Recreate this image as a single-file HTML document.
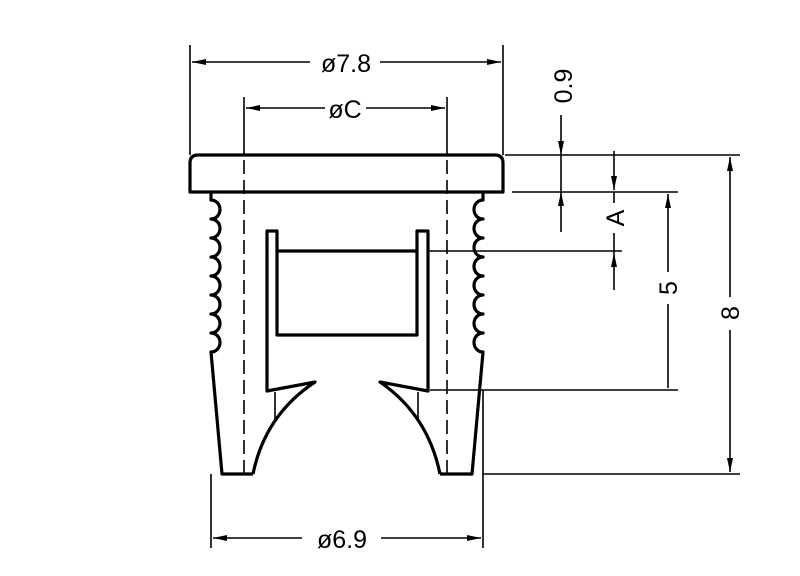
<!DOCTYPE html>
<html><head><meta charset="utf-8"><style>
html,body{margin:0;padding:0;background:#fff;}
svg{display:block}
text{font-family:"Liberation Sans",sans-serif;font-size:25px;fill:#000}
</style></head><body>
<svg width="800" height="576" viewBox="0 0 800 576" xmlns="http://www.w3.org/2000/svg">
<defs>
<marker id="a" markerWidth="14" markerHeight="6" refX="14" refY="3" orient="auto" markerUnits="userSpaceOnUse"><path d="M0,0 L14,3 L0,6z" fill="#000"/></marker>
</defs>
<g fill="none" stroke="#000" stroke-width="1.6">
<line x1="190" y1="45" x2="190" y2="155"/>
<line x1="503" y1="45" x2="503" y2="155"/>
<line x1="244" y1="97" x2="244" y2="140"/>
<line x1="447" y1="97" x2="447" y2="140"/>
<line x1="211" y1="474" x2="211" y2="548"/>
<line x1="483" y1="390" x2="483" y2="548"/>
<line x1="505" y1="155" x2="740" y2="155"/>
<line x1="512" y1="192" x2="678" y2="192"/>
<line x1="428" y1="251" x2="622" y2="251"/>
<line x1="430" y1="390" x2="678" y2="390"/>
<line x1="483" y1="474" x2="740" y2="474"/>
<line x1="310" y1="62" x2="192" y2="62" marker-end="url(#a)"/>
<line x1="380" y1="62" x2="501" y2="62" marker-end="url(#a)"/>
<line x1="325" y1="108" x2="246" y2="108" marker-end="url(#a)"/>
<line x1="366" y1="108" x2="445" y2="108" marker-end="url(#a)"/>
<line x1="302" y1="538" x2="213" y2="538" marker-end="url(#a)"/>
<line x1="381" y1="538" x2="481" y2="538" marker-end="url(#a)"/>
<line x1="561" y1="115" x2="561" y2="155" marker-end="url(#a)"/>
<line x1="561" y1="232" x2="561" y2="192" marker-end="url(#a)"/>
<line x1="561" y1="155" x2="561" y2="192"/>
<line x1="614" y1="151" x2="614" y2="190" marker-end="url(#a)"/>
<line x1="614" y1="192" x2="614" y2="203"/>
<line x1="614" y1="233" x2="614" y2="253"/>
<line x1="614" y1="290" x2="614" y2="253" marker-end="url(#a)"/>
<line x1="668" y1="272" x2="668" y2="194" marker-end="url(#a)"/>
<line x1="668" y1="304" x2="668" y2="388"/>
<line x1="730" y1="297" x2="730" y2="157" marker-end="url(#a)"/>
<line x1="730" y1="330" x2="730" y2="472" marker-end="url(#a)"/>
<g stroke-dasharray="14,6">
<line x1="244" y1="140" x2="244" y2="474"/>
<line x1="447" y1="140" x2="447" y2="474"/>
</g>
<line x1="275" y1="392" x2="275" y2="420"/>
<line x1="418" y1="392" x2="418" y2="420"/>
</g>
<g fill="none" stroke="#000" stroke-width="3.2" stroke-linejoin="round">
<path d="M190,192 L190,163 Q190,155 198,155 L495,155 Q503,155 503,163 L503,192 Z"/>
<path d="M211,192 L211,200 A9,9.5 0 0 1 211,219 A9,9.5 0 0 1 211,238 A9,9.5 0 0 1 211,257 A9,9.5 0 0 1 211,276 A9,9.5 0 0 1 211,295 A9,9.5 0 0 1 211,314 A9,9.5 0 0 1 211,333 A9,9.5 0 0 1 211,352 L222,474 L253,474"/>
<path d="M483,192 L483,200 A9,9.5 0 0 0 483,219 A9,9.5 0 0 0 483,238 A9,9.5 0 0 0 483,257 A9,9.5 0 0 0 483,276 A9,9.5 0 0 0 483,295 A9,9.5 0 0 0 483,314 A9,9.5 0 0 0 483,333 A9,9.5 0 0 0 483,352 L472,474 L440,474"/>
<path d="M253,474 Q265,415 315,382 L267,391 L267,231 L277,231 L277,251 L417,251 L417,231 L428,231 L428,391 L380,382 Q428,415 440,474"/>
<path d="M277,251 L277,335 L417,335 L417,251"/>
</g>
<g>
<text x="346" y="72" text-anchor="middle">ø7.8</text>
<text x="345" y="118" text-anchor="middle">øC</text>
<text x="342" y="548" text-anchor="middle">ø6.9</text>
<text transform="translate(572,86) rotate(-90)" text-anchor="middle">0.9</text>
<text transform="translate(624,218) rotate(-90)" text-anchor="middle">A</text>
<text transform="translate(677,288) rotate(-90)" text-anchor="middle">5</text>
<text transform="translate(739,313) rotate(-90)" text-anchor="middle">8</text>
</g>
</svg>
</body></html>
